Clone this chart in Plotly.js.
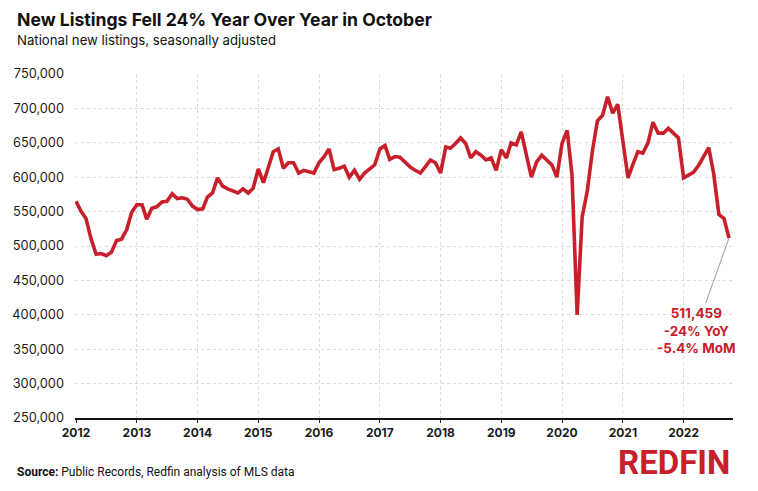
<!DOCTYPE html>
<html>
<head>
<meta charset="utf-8">
<script src="https://cdn.plot.ly/plotly-3.0.1.min.js"></script>
<style>
  html, body { margin: 0; padding: 0; background: #fff; }
  #chart { width: 758px; height: 491px; }
</style>
</head>
<body>
<div id="chart"></div>
<script>
// Monthly national new listings (seasonally adjusted), Jan 2012 - Oct 2022
const startYear = 2012;
const startMonth = 1;
const values2012 = [565000, 550000, 540000, 510000, 488000, 489000, 486000, 491000, 508000, 510000, 524000, 549000];
const values2013 = [560000, 560000, 539000, 555000, 557000, 564000, 565000, 576000, 569000, 570000, 568000, 558000];
const values2014 = [553000, 554000, 571000, 577000, 599000, 587000, 583000, 580000, 577000, 583000, 577000, 584000];
const values2015 = [612000, 592000, 615000, 637000, 641000, 613000, 621000, 621000, 606000, 610000, 608000, 606000];
const values2016 = [621000, 630000, 641000, 611000, 613000, 616000, 600000, 610000, 597000, 606000, 612000, 618000];
const values2017 = [641000, 646000, 626000, 630000, 629000, 622000, 615000, 610000, 606000, 615000, 625000, 621000];
const values2018 = [606000, 644000, 642000, 649000, 657000, 649000, 628000, 637000, 632000, 625000, 628000, 610000];
const values2019 = [640000, 628000, 650000, 647000, 666000, 632000, 600000, 622000, 632000, 625000, 618000, 600000];
const values2020 = [649000, 668000, 603000, 400000, 542000, 580000, 637000, 682000, 690000, 717000, 693000, 706000];
const values2021 = [655000, 599000, 618000, 637000, 635000, 650000, 680000, 664000, 664000, 671000, 664000, 657000];
const values2022 = [599000, 604000, 607000, 617000, 630000, 643000, 605000, 546000, 540000, 511459];

const yTickVals = [250000, 300000, 350000, 400000, 450000, 500000, 550000, 600000, 650000, 700000, 750000];
const xTickYears = ['2012','2013','2014','2015','2016','2017','2018','2019','2020','2021','2022'];

const titleText = 'New Listings Fell 24% Year Over Year in October';
const subtitleText = 'National new listings, seasonally adjusted';
const sourceLabel = 'Source:';
const sourceText = 'Public Records, Redfin analysis of MLS data';
const calloutLines = ['511,459', '-24% YoY', '-5.4% MoM'];
const brandText = 'REDFIN';

const allValues = [].concat(values2012, values2013, values2014, values2015, values2016,
  values2017, values2018, values2019, values2020, values2021, values2022);
const dates = allValues.map((v, i) => {
  const m = startMonth - 1 + i;
  const y = startYear + Math.floor(m / 12);
  const mm = (m % 12) + 1;
  return y + '-' + String(mm).padStart(2, '0') + '-01';
});

const red = '#C8202A';

const trace = {
  x: dates,
  y: allValues,
  type: 'scatter',
  mode: 'lines',
  line: { color: red, width: 3.6, shape: 'linear' },
  hoverinfo: 'skip'
};

const lastIdx = allValues.length - 1;

const layout = {
  width: 758,
  height: 491,
  margin: { l: 75, r: 25, t: 74, b: 73 },
  paper_bgcolor: '#ffffff',
  plot_bgcolor: '#ffffff',
  showlegend: false,
  font: { family: 'Inter, Roboto, sans-serif', color: '#1a1a1a' },
  xaxis: {
    type: 'date',
    range: ['2011-12-26', '2022-10-25'],
    tickvals: xTickYears.map(y => y + '-01-01'),
    ticktext: xTickYears,
    tickfont: { family: 'Inter, Roboto, sans-serif', size: 12, color: '#1a1a1a', weight: 'bold' },
    showgrid: true,
    gridcolor: '#d9d9d9',
    griddash: 'dot',
    gridwidth: 1,
    showline: true,
    linecolor: '#111111',
    linewidth: 2,
    ticks: 'outside',
    ticklen: 3,
    tickcolor: '#111111',
    zeroline: false,
    fixedrange: true
  },
  yaxis: {
    range: [250000, 750000],
    tickvals: yTickVals,
    tickformat: ',d',
    tickfont: { family: 'Inter, Roboto, sans-serif', size: 12.8, color: '#1a1a1a' },
    showgrid: true,
    gridcolor: '#d9d9d9',
    griddash: 'dot',
    gridwidth: 1,
    zeroline: false,
    showline: false,
    ticks: '',
    ticklabelstandoff: 10,
    fixedrange: true
  },
  annotations: [
    {
      xref: 'paper', yref: 'paper',
      x: -0.0912, y: 1.157, xanchor: 'left', yanchor: 'middle',
      text: '<b>' + titleText + '</b>', showarrow: false,
      font: { family: 'Inter, Roboto, sans-serif', size: 17.6, color: '#111111' }
    },
    {
      xref: 'paper', yref: 'paper',
      x: -0.0912, y: 1.099, xanchor: 'left', yanchor: 'middle',
      text: subtitleText, showarrow: false,
      font: { family: 'Inter, Roboto, sans-serif', size: 13.2, color: '#111111' }
    },
    {
      xref: 'paper', yref: 'paper',
      x: -0.0912, y: -0.157, xanchor: 'left', yanchor: 'middle',
      text: '<b>' + sourceLabel + '</b> ' + sourceText, showarrow: false,
      font: { family: '"Liberation Sans Narrow", "Roboto", sans-serif', size: 12, color: '#111111' }
    },
    {
      xref: 'paper', yref: 'paper',
      x: 0.9985, y: -0.1295, xanchor: 'right', yanchor: 'middle',
      text: '<b>' + brandText + '</b>', showarrow: false,
      font: { family: '"Liberation Sans Narrow", "Roboto", sans-serif', size: 33, color: red }
    },
    {
      x: dates[lastIdx], y: allValues[lastIdx],
      xref: 'x', yref: 'y',
      text: '<b>' + calloutLines.join('<br>') + '</b>',
      showarrow: true, arrowhead: 0, arrowwidth: 1, arrowcolor: '#9a9a9a',
      ax: -33, ay: 92,
      align: 'center',
      font: { family: 'Inter, Roboto, sans-serif', size: 13.5, color: red }
    }
  ]
};

Plotly.newPlot('chart', [trace], layout, { displayModeBar: false, staticPlot: true });
</script>
</body>
</html>
